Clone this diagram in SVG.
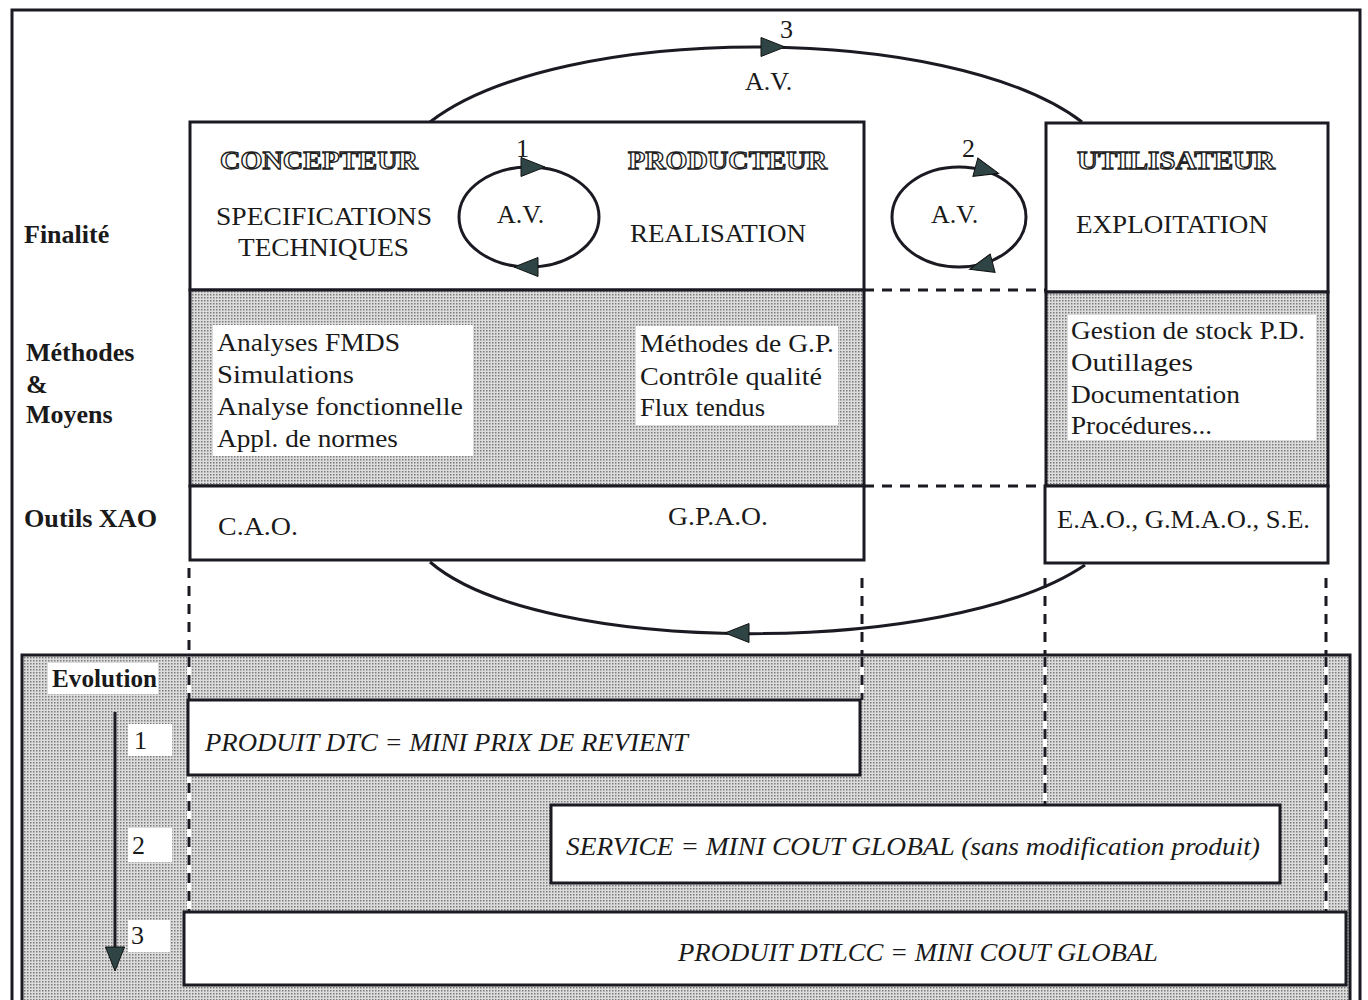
<svg xmlns="http://www.w3.org/2000/svg" xmlns:xlink="http://www.w3.org/1999/xlink" width="1368" height="1000" viewBox="0 0 1368 1000">
<style>
.t{font-family:"Liberation Serif","Times New Roman",serif;font-size:26px;fill:#1a1a1a}
.b{font-weight:bold}
.i{font-style:italic}
.o{font-family:"Liberation Serif",serif;font-weight:bold;font-size:26px;fill:#fff;stroke:#222;stroke-width:1.3}
.box{fill:#fff;stroke:#1a1a22;stroke-width:3}
.shade{fill:url(#dots);stroke:#1a1a22;stroke-width:3}
.wb{fill:#fff;stroke:none}
.ln{fill:none;stroke:#1a1a22;stroke-width:3}
.dash{fill:none;stroke:#1a1a22;stroke-width:3;stroke-dasharray:10 8}
.wl{fill:none;stroke:#fff;stroke-width:4}
.ah{fill:#2f4545;stroke:#111;stroke-width:1}
</style>
<defs>
<pattern id="dots" width="3" height="3" patternUnits="userSpaceOnUse"><rect width="3" height="3" fill="#dcdcdc"/><rect width="1.5" height="1.5" fill="#7a7a7a"/></pattern>
<path id="ah" d="M13,0 L-11,-9.5 L-11,9.5 Z"/>
</defs>
<rect x="0" y="0" width="1368" height="1000" fill="#fff"/>
<rect x="12" y="10" width="1348" height="1000" class="ln"/>

<g id="labels-left">
<text x="24" y="243" class="t b" font-size="23">Finalité</text>
<text x="26" y="361" class="t b" font-size="23">Méthodes</text>
<text x="26" y="393" class="t b" font-size="23">&amp;</text>
<text x="26" y="423" class="t b" font-size="23">Moyens</text>
<text x="24" y="527" class="t b" font-size="23" textLength="133" lengthAdjust="spacingAndGlyphs">Outils XAO</text>
</g>

<g id="connectors">
<path class="ln" d="M430,122 C560,22 950,22 1082,122"/>
<use xlink:href="#ah" class="ah" transform="translate(772,47)"/>
<text x="780" y="38" class="t" font-size="23">3</text>
<text x="745" y="90" class="t" font-size="24">A.V.</text>
<path class="ln" d="M430,562 C540,657 950,657 1085,565"/>
<use xlink:href="#ah" class="ah" transform="translate(738,633) rotate(180)"/>
<path class="dash" d="M864,290 H1046"/>
<path class="dash" d="M864,486 H1046"/>
<path class="dash" d="M189,568 V655"/>
<path class="dash" d="M862,578 V655"/>
<path class="dash" d="M1045,578 V655"/>
<path class="dash" d="M1326,578 V655"/>
</g>

<g id="bottom-panel">
<rect x="22" y="655" width="1328" height="360" class="shade"/>
</g>

<g id="panel-connectors">
<path class="wl" d="M189,657 V912"/>
<path class="dash" d="M189,657 V912"/>
<path class="wl" d="M862,657 V700"/>
<path class="dash" d="M862,657 V700"/>
<path class="wl" d="M1045,657 V805"/>
<path class="dash" d="M1045,657 V805"/>
<path class="wl" d="M1326,657 V912"/>
<path class="dash" d="M1326,657 V912"/>
</g>

<g id="main-box">
<rect x="190" y="122" width="674" height="168" class="box"/>
<rect x="190" y="290" width="674" height="196" class="shade"/>
<rect x="190" y="486" width="674" height="74" class="box"/>
<text x="220" y="169" class="o" textLength="198" lengthAdjust="spacingAndGlyphs">CONCEPTEUR</text>
<text x="628" y="169" class="o" textLength="199" lengthAdjust="spacingAndGlyphs">PRODUCTEUR</text>
<text x="216" y="225" class="t" textLength="216" lengthAdjust="spacingAndGlyphs">SPECIFICATIONS</text>
<text x="238" y="256" class="t" textLength="171" lengthAdjust="spacingAndGlyphs">TECHNIQUES</text>
<text x="630" y="242" class="t" textLength="176" lengthAdjust="spacingAndGlyphs">REALISATION</text>
<rect x="213" y="325" width="260" height="131" class="wb"/>
<text class="t" x="217" y="351" textLength="183" lengthAdjust="spacingAndGlyphs">Analyses FMDS</text>
<text class="t" x="217" y="383" textLength="137" lengthAdjust="spacingAndGlyphs">Simulations</text>
<text class="t" x="217" y="415" textLength="246" lengthAdjust="spacingAndGlyphs">Analyse fonctionnelle</text>
<text class="t" x="217" y="447" textLength="181" lengthAdjust="spacingAndGlyphs">Appl. de normes</text>
<rect x="636" y="326" width="202" height="99" class="wb"/>
<text class="t" x="640" y="352" textLength="194" lengthAdjust="spacingAndGlyphs">Méthodes de G.P.</text>
<text class="t" x="640" y="385" textLength="182" lengthAdjust="spacingAndGlyphs">Contrôle qualité</text>
<text class="t" x="640" y="416" textLength="125" lengthAdjust="spacingAndGlyphs">Flux tendus</text>
<text class="t" x="218" y="535" textLength="80" lengthAdjust="spacingAndGlyphs">C.A.O.</text>
<text class="t" x="668" y="525" textLength="100" lengthAdjust="spacingAndGlyphs">G.P.A.O.</text>
</g>

<g id="cycle1">
<ellipse cx="529" cy="217" rx="70" ry="50" class="ln"/>
<use xlink:href="#ah" class="ah" transform="translate(532,167)"/>
<use xlink:href="#ah" class="ah" transform="translate(527,267) rotate(180)"/>
<text x="516" y="157" class="t" font-size="23">1</text>
<text x="497" y="223" class="t" font-size="24">A.V.</text>
</g>

<g id="cycle2">
<ellipse cx="959" cy="217" rx="67" ry="50" class="ln"/>
<use xlink:href="#ah" class="ah" transform="translate(986,170) rotate(15)"/>
<use xlink:href="#ah" class="ah" transform="translate(982,266) rotate(165)"/>
<text x="962" y="157" class="t" font-size="23">2</text>
<text x="931" y="223" class="t" font-size="24">A.V.</text>
</g>

<g id="user-box">
<rect x="1046" y="123" width="282" height="169" class="box"/>
<rect x="1046" y="292" width="282" height="194" class="shade"/>
<rect x="1045" y="486" width="283" height="77" class="box"/>
<text x="1077" y="169" class="o" textLength="198" lengthAdjust="spacingAndGlyphs">UTILISATEUR</text>
<text x="1076" y="233" class="t" textLength="192" lengthAdjust="spacingAndGlyphs">EXPLOITATION</text>
<rect x="1068" y="315" width="248" height="125" class="wb"/>
<text class="t" x="1071" y="339" textLength="234" lengthAdjust="spacingAndGlyphs">Gestion de stock P.D.</text>
<text class="t" x="1071" y="371" textLength="122" lengthAdjust="spacingAndGlyphs">Outillages</text>
<text class="t" x="1071" y="403" textLength="169" lengthAdjust="spacingAndGlyphs">Documentation</text>
<text class="t" x="1071" y="434" textLength="141" lengthAdjust="spacingAndGlyphs">Procédures...</text>
<text class="t" x="1057" y="528" textLength="253" lengthAdjust="spacingAndGlyphs">E.A.O., G.M.A.O., S.E.</text>
</g>

<g id="evolution">
<rect x="48" y="663" width="110" height="31" class="wb"/>
<text x="52" y="687" class="t b" font-size="23" textLength="105" lengthAdjust="spacingAndGlyphs">Evolution</text>
<path d="M115,712 V950" stroke="#1a1a22" stroke-width="3" fill="none"/>
<use xlink:href="#ah" class="ah" transform="translate(115,958) rotate(90)"/>
<rect x="128" y="724" width="44" height="32" class="wb"/>
<text x="134" y="749" class="t">1</text>
<rect x="128" y="828" width="44" height="34" class="wb"/>
<text x="132" y="854" class="t">2</text>
<rect x="128" y="920" width="42" height="32" class="wb"/>
<text x="131" y="944" class="t">3</text>
</g>

<g id="stage1">
<rect x="188" y="700" width="672" height="75" class="box"/>
<text x="205" y="751" class="t i" textLength="483" lengthAdjust="spacingAndGlyphs">PRODUIT DTC = MINI PRIX DE REVIENT</text>
</g>
<g id="stage2">
<rect x="551" y="805" width="729" height="78" class="box"/>
<text x="566" y="855" class="t i" textLength="694" lengthAdjust="spacingAndGlyphs">SERVICE = MINI COUT GLOBAL (sans modification produit)</text>
</g>
<g id="stage3">
<rect x="184" y="912" width="1162" height="73" class="box"/>
<text x="678" y="961" class="t i" textLength="480" lengthAdjust="spacingAndGlyphs">PRODUIT DTLCC = MINI COUT GLOBAL</text>
</g>
</svg>
